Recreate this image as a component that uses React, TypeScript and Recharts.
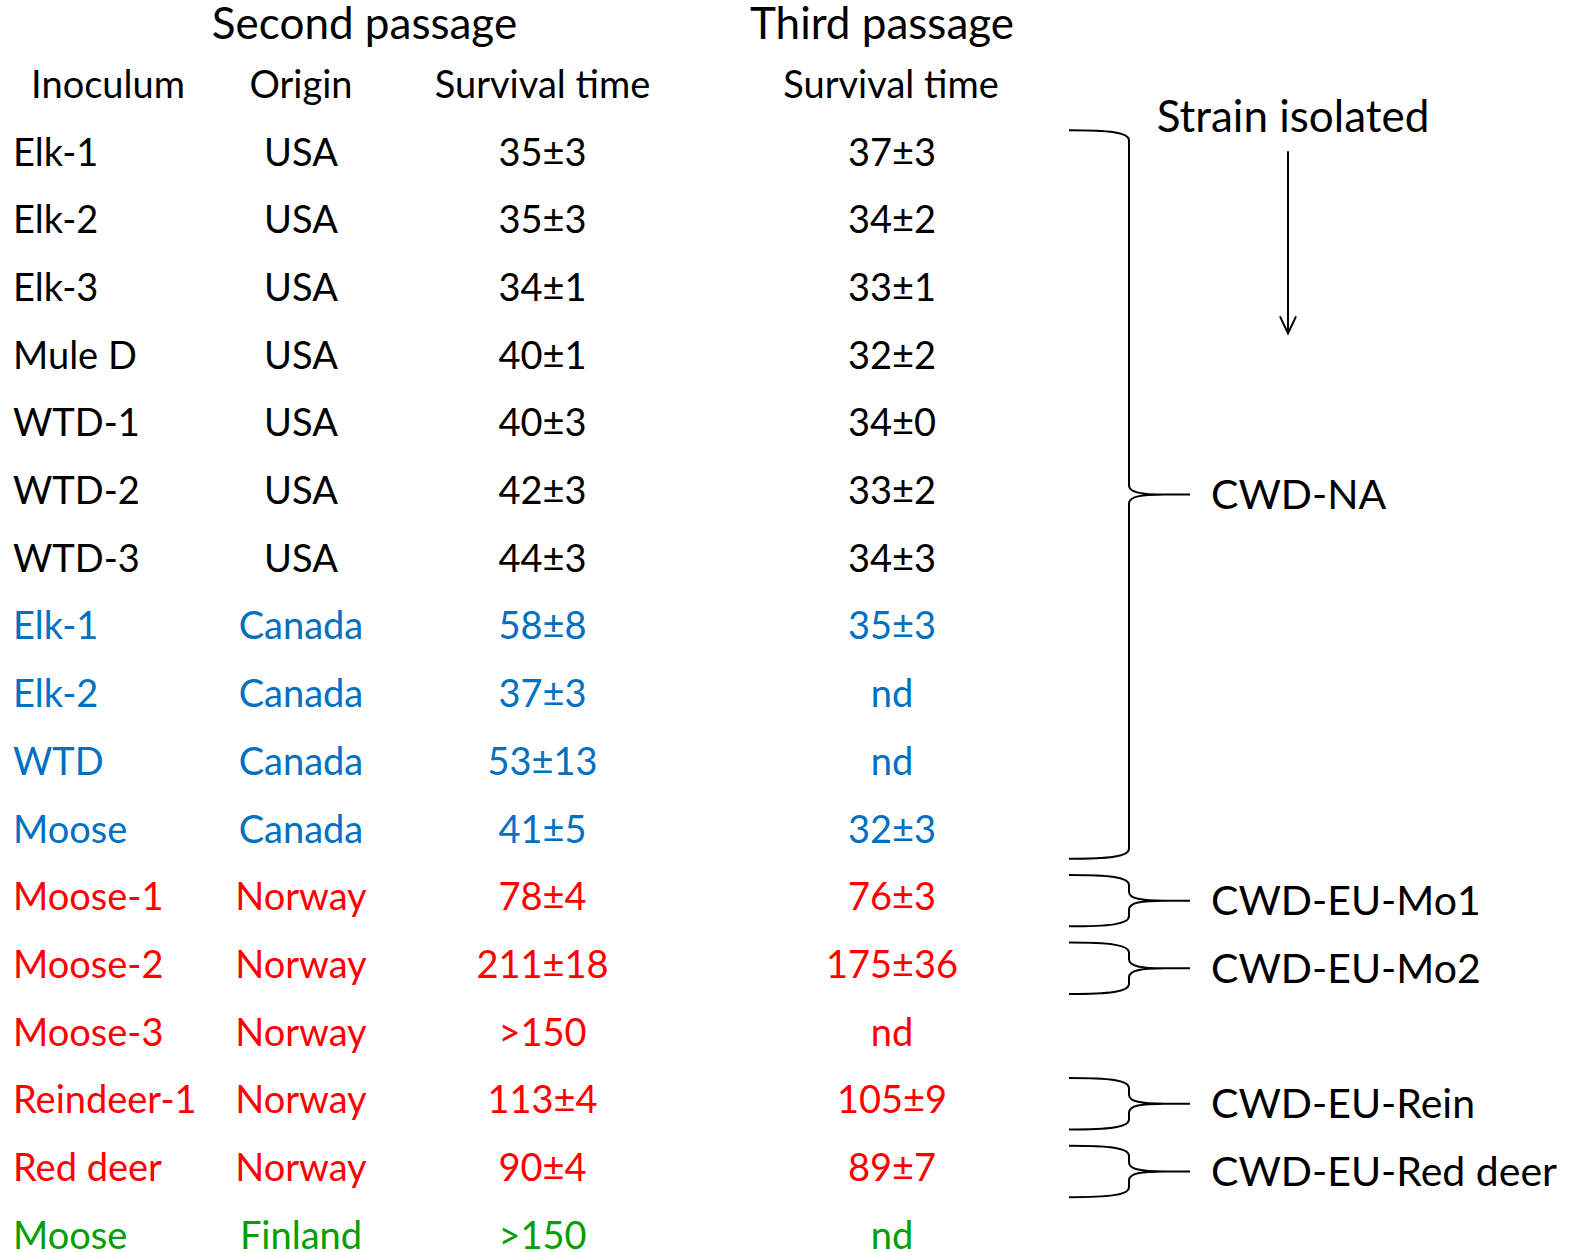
import React from 'react';
import { ScatterChart, Scatter, XAxis, YAxis } from 'recharts';

// ---------- data ----------
const inoculum = ['Elk-1', 'Elk-2', 'Elk-3', 'Mule D', 'WTD-1', 'WTD-2', 'WTD-3', 'Elk-1', 'Elk-2', 'WTD', 'Moose', 'Moose-1', 'Moose-2', 'Moose-3', 'Reindeer-1', 'Red deer', 'Moose'];
const origin = ['USA', 'USA', 'USA', 'USA', 'USA', 'USA', 'USA', 'Canada', 'Canada', 'Canada', 'Canada', 'Norway', 'Norway', 'Norway', 'Norway', 'Norway', 'Finland'];
const secondPassage = ['35±3', '35±3', '34±1', '40±1', '40±3', '42±3', '44±3', '58±8', '37±3', '53±13', '41±5', '78±4', '211±18', '>150', '113±4', '90±4', '>150'];
const thirdPassage = ['37±3', '34±2', '33±1', '32±2', '34±0', '33±2', '34±3', '35±3', 'nd', 'nd', '32±3', '76±3', '175±36', 'nd', '105±9', '89±7', 'nd'];
const passageTitles = ['Second passage', 'Third passage'];
const columnHeaders = ['Inoculum', 'Origin', 'Survival time', 'Survival time'];
const strainTitle = 'Strain isolated';
const strainNames = ['CWD-NA', 'CWD-EU-Mo1', 'CWD-EU-Mo2', 'CWD-EU-Rein', 'CWD-EU-Red deer'];
const strainFirstRow = [0, 11, 12, 14, 15];
const strainLastRow = [10, 11, 12, 14, 15];

// ---------- styles / layout ----------
const originColors: Record<string, string> = {
  USA: '#000000',
  Canada: '#0070C0',
  Norway: '#FF0000',
  Finland: '#00A000',
};
const FONT = 'Lato, "Open Sans", sans-serif';
const BODY_SIZE = 38;
const BIG_SIZE = 44;
const LABEL_SIZE = 41;
const CAP = 0.7165; // Lato cap-height ratio

const W = 1584;
const H = 1252;
const ROW0 = 152;
const ROW_STEP = 67.69;
const Y_MIN = -ROW0 / ROW_STEP;
const Y_MAX = (H - ROW0) / ROW_STEP;

const COL = {
  inoculum: 13,
  inoculumHeader: 108,
  origin: 301,
  second: 542.5,
  third: 892,
  thirdHeader: 891,
  secondTitle: 364.5,
  thirdTitle: 882,
  strainTitle: 1293,
  arrow: 1288,
  brace: 1069,
  braceLabel: 1211,
};
const ROWPOS = { title: -1.9, header: -1.0, strainTitle: -0.53, arrowTop: -0.01, arrowBottom: 2.68 };
const BRACE_TOP_PAD = 0.32;
const BRACE_BOTTOM_PAD = 0.44;

type Cell = { x: number; y: number; text: string; color: string; size: number; anchor: string };

const cells: Cell[] = [];
inoculum.forEach((t, i) => {
  const c = originColors[origin[i]];
  cells.push({ x: COL.inoculum, y: i, text: t, color: c, size: BODY_SIZE, anchor: 'start' });
  cells.push({ x: COL.origin, y: i, text: origin[i], color: c, size: BODY_SIZE, anchor: 'middle' });
  cells.push({ x: COL.second, y: i, text: secondPassage[i], color: c, size: BODY_SIZE, anchor: 'middle' });
  cells.push({ x: COL.third, y: i, text: thirdPassage[i], color: c, size: BODY_SIZE, anchor: 'middle' });
});
const headerX = [COL.inoculumHeader, COL.origin, COL.second, COL.thirdHeader];
columnHeaders.forEach((t, i) => {
  cells.push({ x: headerX[i], y: ROWPOS.header, text: t, color: '#000', size: BODY_SIZE, anchor: 'middle' });
});
const titleX = [COL.secondTitle, COL.thirdTitle];
passageTitles.forEach((t, i) => {
  cells.push({ x: titleX[i], y: ROWPOS.title, text: t, color: '#000', size: BIG_SIZE, anchor: 'middle' });
});
cells.push({ x: COL.strainTitle, y: ROWPOS.strainTitle, text: strainTitle, color: '#000', size: BIG_SIZE, anchor: 'middle' });

const braces = strainNames.map((name, i) => {
  const top = strainFirstRow[i] - BRACE_TOP_PAD;
  const bottom = strainLastRow[i] + BRACE_BOTTOM_PAD;
  return { x: COL.brace, y: (top + bottom) / 2, half: (bottom - top) / 2, name };
});

const arrows = [{ x: COL.arrow, y: ROWPOS.arrowTop, len: ROWPOS.arrowBottom - ROWPOS.arrowTop }];

// ---------- shapes ----------
const TextShape = (props: any) => {
  const { cx, cy, payload } = props;
  const p = payload as Cell;
  return (
    <text
      x={cx}
      y={cy + (CAP * p.size) / 2}
      textAnchor={p.anchor as any}
      fill={p.color}
      fontSize={p.size}
      fontFamily={FONT}
    >
      {p.text}
    </text>
  );
};

const BraceShape = (props: any) => {
  const { cx, cy, payload } = props;
  const halfPx = payload.half * ROW_STEP;
  const xL = cx;
  const xV = cx + 60;
  const xT = cx + 121;
  const y0 = cy - halfPx;
  const y1 = cy + halfPx;
  const ym = cy;
  const d = [
    `M ${xL} ${y0}`,
    `C ${xL + 40} ${y0} ${xV} ${y0 + 2} ${xV} ${y0 + 10}`,
    `L ${xV} ${ym - 9}`,
    `C ${xV} ${ym - 2} ${xV + 12} ${ym} ${xV + 36} ${ym}`,
    `L ${xT} ${ym}`,
    `M ${xV + 36} ${ym}`,
    `C ${xV + 12} ${ym} ${xV} ${ym + 2} ${xV} ${ym + 9}`,
    `L ${xV} ${y1 - 10}`,
    `C ${xV} ${y1 - 2} ${xL + 40} ${y1} ${xL} ${y1}`,
  ].join(' ');
  return (
    <g>
      <path d={d} fill="none" stroke="#000" strokeWidth={2} />
      <text
        x={COL.braceLabel}
        y={ym + (CAP * LABEL_SIZE) / 2}
        fontSize={LABEL_SIZE}
        fontFamily={FONT}
        fill="#000"
      >
        {payload.name}
      </text>
    </g>
  );
};

const ArrowShape = (props: any) => {
  const { cx, cy, payload } = props;
  const y1 = cy + payload.len * ROW_STEP;
  return (
    <g stroke="#000" strokeWidth={2} fill="none">
      <line x1={cx} y1={cy} x2={cx} y2={y1} />
      <polyline points={`${cx - 8} ${y1 - 17} ${cx} ${y1} ${cx + 8} ${y1 - 17}`} />
    </g>
  );
};

export default function App() {
  return (
    <div style={{ position: 'absolute', left: 0, top: 0, width: W, height: H, background: '#ffffff' }}>
      <ScatterChart width={W} height={H} margin={{ top: 0, right: 0, bottom: 0, left: 0 }}>
        <XAxis type="number" dataKey="x" domain={[0, W]} hide allowDataOverflow />
        <YAxis type="number" dataKey="y" domain={[Y_MIN, Y_MAX]} reversed hide allowDataOverflow />
        <Scatter data={braces} shape={BraceShape} isAnimationActive={false} />
        <Scatter data={arrows} shape={ArrowShape} isAnimationActive={false} />
        <Scatter data={cells} shape={TextShape} isAnimationActive={false} />
      </ScatterChart>
    </div>
  );
}
